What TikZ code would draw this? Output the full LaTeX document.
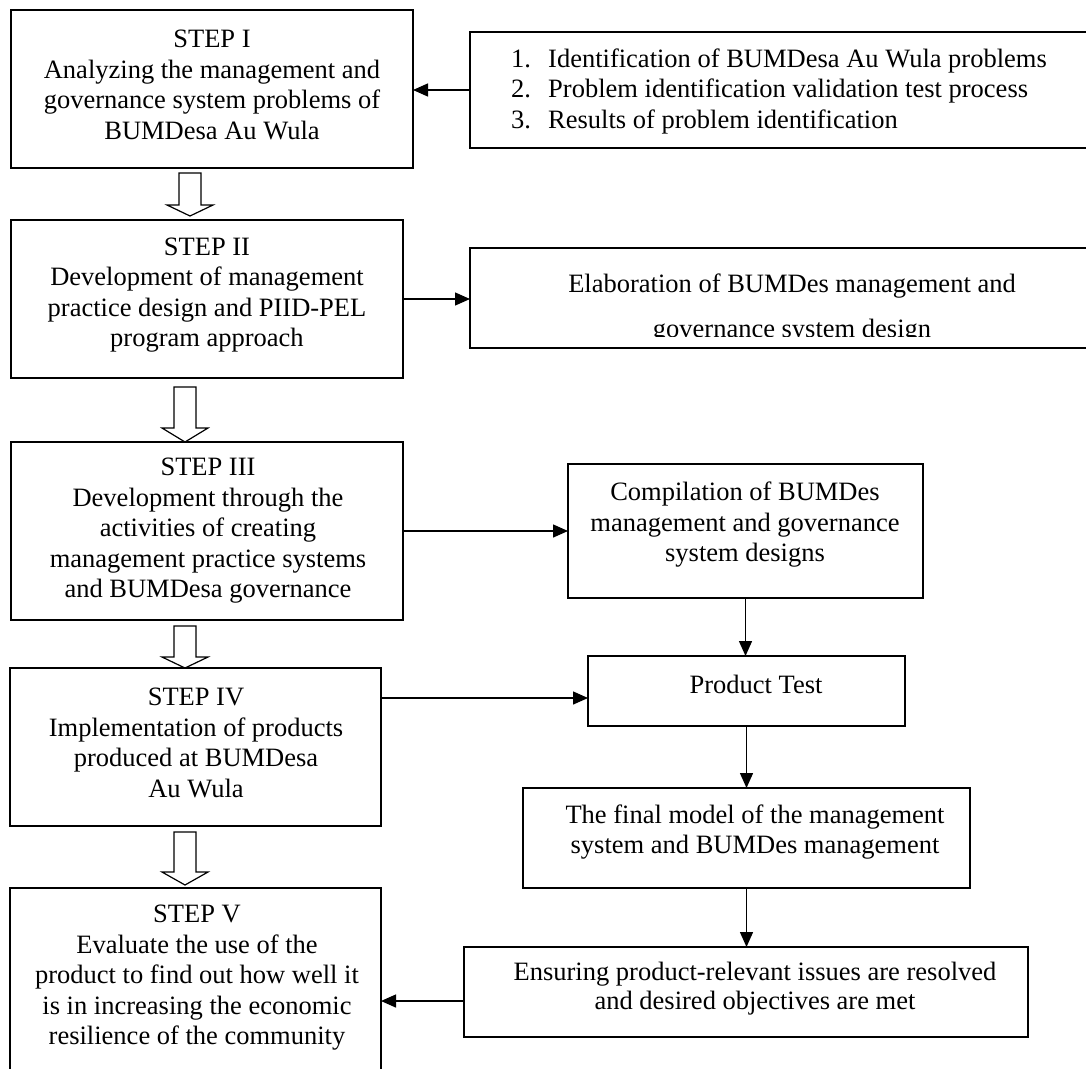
\documentclass[tikz,border=0pt]{standalone}
\usepackage{fontspec}
\setmainfont{Liberation Serif}
\usetikzlibrary{arrows.meta,calc}
\tikzset{
 box/.style={draw, line width=1.4pt, inner sep=0pt, outer sep=0pt},
 txt/.style={align=center, inner sep=0pt, font=\fontsize{26.5}{30.5}\selectfont},
 conn/.style={line width=1.4pt, -{Triangle[length=15pt,width=13pt]}},
 hollow/.style={draw, line width=1.2pt, fill=white, line join=miter},
}
\newcommand\harrow[4]{\draw[hollow] (#1-11,#2) -- (#1+11,#2) -- (#1+11,#3) -- (#1+23,#3) -- (#1,#4) -- (#1-23,#3) -- (#1-11,#3) -- cycle;}
\begin{document}
\begin{tikzpicture}[x=1pt,y=-1pt]
\useasboundingbox (0,0) rectangle (1086,1068);
\clip (0,0) rectangle (1086,1068);
% left column boxes
\node[box, minimum width=402pt, minimum height=158pt] (s1) at (212,89) {};
\node[box, minimum width=392pt, minimum height=158pt] (s2) at (207,299) {};
\node[box, minimum width=392pt, minimum height=178pt] (s3) at (207,531) {};
\node[box, minimum width=371pt, minimum height=158pt] (s4) at (195.5,747) {};
\node[box, minimum width=371pt, minimum height=187pt] (s5) at (195.5,981.5) {};
% right column boxes
\node[box, minimum width=625pt, minimum height=116pt] (lst) at (782.5,90) {};
\node[box, minimum width=625pt, minimum height=100pt] (elab) at (782.5,298) {};
\node[box, minimum width=355pt, minimum height=134pt] (comp) at (745.5,531) {};
\node[box, minimum width=317pt, minimum height=70pt] (pt) at (746.5,691) {};
\node[box, minimum width=447pt, minimum height=100pt] (fin) at (746.5,838) {};
\node[box, minimum width=564pt, minimum height=90pt] (ens) at (746,992) {};
% texts
\node[txt] (s1t) at (212,85) {STEP I\\Analyzing the management and\\governance system problems of\\BUMDesa Au Wula};
\node[txt] (s2t) at (207,295) {STEP II\\Development of management\\practice design and PIID-PEL\\program approach};
\node[txt] (s3t) at (208,531) {STEP III\\Development through the\\activities of creating\\management practice systems\\and BUMDesa governance};
\node[txt] (s4t) at (196,743) {STEP IV\\Implementation of products\\produced at BUMDesa\\Au Wula};
\node[txt] (s5t) at (197,978) {STEP V\\Evaluate the use of the\\product to find out how well it\\is in increasing the economic\\resilience of the community};
\node[txt, align=left, anchor=west] (lstt) at (511,91) {\makebox[37pt][l]{1.}Identification of BUMDesa Au Wula problems\\\makebox[37pt][l]{2.}Problem identification validation test process\\\makebox[37pt][l]{3.}Results of problem identification};
\begin{scope}
\clip (470,248) rectangle (1086,336);
\node[txt, font=\fontsize{26.5}{45}\selectfont] (elabt) at (792,309) {Elaboration of BUMDes management and\\governance system design};
\end{scope}
\node[txt] (compt) at (745,525) {Compilation of BUMDes\\management and governance\\system designs};
\node[txt] (ptt) at (756,684) {Product Test};
\node[txt] (fint) at (755,832) {The final model of the management\\system and BUMDes management};
\node[txt, font=\fontsize{26.5}{29}\selectfont] (enst) at (755,989) {Ensuring product-relevant issues are resolved\\and desired objectives are met};
% connectors
\draw[conn] (lst.west) -- (lst.west -| s1.east);
\draw[conn] (s2.east) -- (s2.east -| elab.west);
\draw[conn] (s3.east) -- (s3.east -| comp.west);
\draw[conn] ([yshift=-7pt]pt.west -| s4.east) -- ([yshift=-7pt]pt.west);
\draw[conn] (comp.south) -- (comp.south |- pt.north);
\draw[conn] (pt.south) -- (pt.south |- fin.north);
\draw[conn] (fin.south) -- (fin.south |- ens.north);
\draw[conn] ([yshift=-9pt]ens.west) -- ([yshift=-9pt]ens.west -| s5.east);
% hollow arrows
\harrow{190}{173}{205}{216}
\harrow{185}{387}{428}{442}
\harrow{185}{626}{657}{668}
\harrow{185}{832}{872}{885}
\end{tikzpicture}
\end{document}
